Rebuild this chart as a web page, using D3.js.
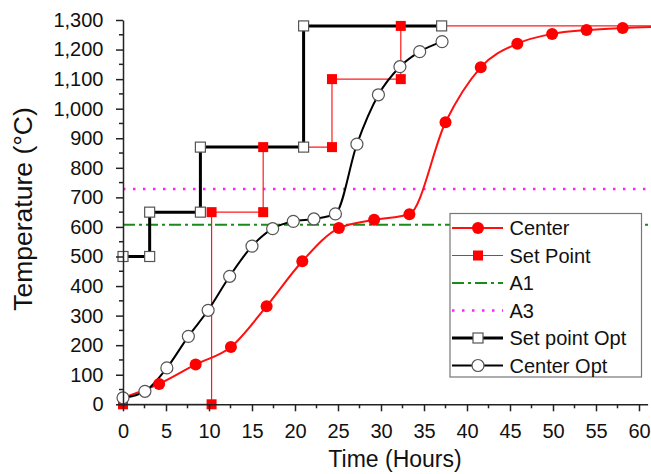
<!DOCTYPE html>
<html>
<head>
<meta charset="utf-8">
<script src="https://cdnjs.cloudflare.com/ajax/libs/d3/7.8.5/d3.min.js"></script>
<style>
  body { margin: 0; background: #fff; }
  svg { display: block; font-family: "Liberation Sans", Arial, sans-serif; }
</style>
</head>
<body>
<svg width="651" height="474"></svg>
<script>
// values (hours, degC)
var centerT    = [0, 4.2, 8.45, 12.55, 16.7, 20.85, 25.1, 29.2, 33.3, 37.5, 41.6, 45.85, 49.9, 53.9, 58.1];
var centerV    = [22, 69, 135, 194, 332, 484, 596, 624, 643, 954, 1140, 1220, 1253, 1266, 1273];
var setT       = [0, 10.3, 10.3, 16.3, 16.3, 24.3, 24.3, 32.3, 32.3];
var setV       = [0, 0, 650, 650, 870, 870, 1100, 1100, 1280];
var optSetT    = [0, 3.1, 3.1, 9, 9, 21, 21, 37.05];
var optSetV    = [500, 500, 650, 650, 870, 870, 1280, 1280];
var optCenterT = [0, 2.55, 5.1, 7.6, 9.9, 12.4, 15.0, 17.4, 19.8, 22.2, 24.7, 27.2, 29.7, 32.2, 34.5, 37.1];
var optCenterV = [22, 44, 123, 230, 318, 433, 535, 594, 619, 627, 644, 880, 1047, 1142, 1193, 1227];
var A1 = 607, A3 = 728;
var xTicks = d3.range(0, 61, 5);
var yTicks = d3.range(0, 1301, 100);
var legendNames = ["Center", "Set Point", "A1", "A3", "Set point Opt", "Center Opt"];

var svg = d3.select("svg")
  , x = d3.scaleLinear().domain([0, 61]).range([123, 647.6])
  , y = d3.scaleLinear().domain([0, 1300]).range([404.3, 20]);

function pts(ts, vs){ return ts.map(function(t, i){ return [t, vs[i]]; }); }

var centerPts = pts(centerT, centerV)
  , setPts = pts(setT, setV)
  , optSetPts = pts(optSetT, optSetV)
  , optCenterPts = pts(optCenterT, optCenterV);

svg.append("clipPath").attr("id", "clip")
  .append("rect").attr("x", 123).attr("y", 0).attr("width", 528).attr("height", 405);

var plot = svg.append("g").attr("clip-path", "url(#clip)");

var straight = d3.line().x(function(d){ return x(d[0]); }).y(function(d){ return y(d[1]); });
var smooth = d3.line().curve(d3.curveMonotoneX).x(function(d){ return x(d[0]); }).y(function(d){ return y(d[1]); });

// reference lines
plot.append("line").attr("x1", x(0)).attr("x2", 651).attr("y1", y(A1)).attr("y2", y(A1))
  .attr("stroke", "#1a8a1a").attr("stroke-width", 2).attr("stroke-dasharray", "12,4,3,4");
plot.append("line").attr("x1", x(0)).attr("x2", 651).attr("y1", y(A3)).attr("y2", y(A3))
  .attr("stroke", "#ff22ff").attr("stroke-width", 2.5).attr("stroke-dasharray", "2.5,7.5");

// set point line keeps going to the edge
plot.append("path").datum(setPts.concat([[62, 1280]]))
  .attr("d", straight).attr("fill", "none").attr("stroke", "#ff1a1a").attr("stroke-width", 1.2);
plot.append("path").datum(centerPts.concat([[62, 1277]]))
  .attr("d", smooth).attr("fill", "none").attr("stroke", "#ff1010").attr("stroke-width", 2);
plot.append("path").datum(optSetPts)
  .attr("d", straight).attr("fill", "none").attr("stroke", "#000").attr("stroke-width", 3);
plot.append("path").datum(optCenterPts)
  .attr("d", smooth).attr("fill", "none").attr("stroke", "#000").attr("stroke-width", 2);

// markers on top
var mk = svg.append("g");
mk.selectAll(".sp").data(setPts).enter().append("rect")
  .attr("x", function(d){ return x(d[0]) - 5; }).attr("y", function(d){ return y(d[1]) - 5; })
  .attr("width", 10).attr("height", 10).attr("fill", "#ff0000");
mk.selectAll(".ce").data(centerPts).enter().append("circle")
  .attr("cx", function(d){ return x(d[0]); }).attr("cy", function(d){ return y(d[1]); })
  .attr("r", 6).attr("fill", "#ff0000");
mk.selectAll(".os").data(optSetPts).enter().append("rect")
  .attr("x", function(d){ return x(d[0]) - 5; }).attr("y", function(d){ return y(d[1]) - 5; })
  .attr("width", 10).attr("height", 10).attr("fill", "#fff").attr("stroke", "#555").attr("stroke-width", 1.2);
mk.selectAll(".oc").data(optCenterPts).enter().append("circle")
  .attr("cx", function(d){ return x(d[0]); }).attr("cy", function(d){ return y(d[1]); })
  .attr("r", 6).attr("fill", "#fff").attr("stroke", "#555").attr("stroke-width", 1.2);

// axes
var fmt = d3.format(",");
var xAxis = svg.append("g").attr("transform", "translate(0,404.3)")
  .call(d3.axisBottom(x).tickValues(xTicks).tickSize(7).tickPadding(13).tickSizeOuter(0));
var yAxis = svg.append("g").attr("transform", "translate(123,0)")
  .call(d3.axisLeft(y).tickValues(yTicks).tickFormat(fmt).tickSize(7).tickPadding(12.5).tickSizeOuter(0));

xAxis.selectAll(".minor").data(xTicks.slice(0, -1)).enter().append("line")
  .attr("x1", function(d){ return x(d + 2.5); }).attr("x2", function(d){ return x(d + 2.5); })
  .attr("y1", 0).attr("y2", 4).attr("stroke", "#222").attr("stroke-width", 1.5);
yAxis.selectAll(".minor").data(yTicks.slice(0, -1)).enter().append("line")
  .attr("y1", function(d){ return y(d + 50); }).attr("y2", function(d){ return y(d + 50); })
  .attr("x1", 0).attr("x2", -4).attr("stroke", "#222").attr("stroke-width", 1.5);

[xAxis, yAxis].forEach(function(a){
  a.select(".domain").attr("stroke", "#222").attr("stroke-width", 1.5);
  a.selectAll(".tick line").attr("stroke", "#222").attr("stroke-width", 1.5);
  a.selectAll(".tick text").attr("font-size", 20).attr("fill", "#111")
    .attr("font-family", "'Liberation Sans', Arial, sans-serif");
});

svg.append("text").attr("x", 395).attr("y", 467).attr("text-anchor", "middle")
  .attr("font-size", 23).attr("fill", "#111").text("Time (Hours)");
svg.append("text").attr("transform", "translate(32,209) rotate(-90)").attr("text-anchor", "middle")
  .attr("font-size", 26.5).attr("fill", "#111").text("Temperature (°C)");

// legend
var lg = svg.append("g");
lg.append("rect").attr("x", 450).attr("y", 213.5).attr("width", 191.5).attr("height", 163.5)
  .attr("fill", "#fff").attr("stroke", "#777").attr("stroke-width", 1.2);
var rows = lg.selectAll(".row").data(legendNames).enter().append("g")
  .attr("transform", function(d, i){ return "translate(0," + (228 + i * 27.5) + ")"; });
rows.append("text").attr("x", 509.5).attr("y", 7).attr("font-size", 20).attr("fill", "#111")
  .text(function(d){ return d; });
var samples = [
  {stroke: "#ff1010", w: 2, dash: null},
  {stroke: "#ff1a1a", w: 1.2, dash: null},
  {stroke: "#1a8a1a", w: 2, dash: "12,4,3,4"},
  {stroke: "#ff22ff", w: 2.5, dash: "2.5,7.5"},
  {stroke: "#000", w: 3, dash: null},
  {stroke: "#000", w: 2, dash: null}
];
rows.append("line").attr("x1", 452).attr("x2", 503).attr("y1", 0).attr("y2", 0)
  .attr("stroke", function(d, i){ return samples[i].stroke; })
  .attr("stroke-width", function(d, i){ return samples[i].w; })
  .attr("stroke-dasharray", function(d, i){ return samples[i].dash; });
rows.filter(function(d, i){ return i === 0; }).append("circle").attr("cx", 478).attr("r", 6).attr("fill", "#ff0000");
rows.filter(function(d, i){ return i === 1; }).append("rect").attr("x", 473).attr("y", -5)
  .attr("width", 10).attr("height", 10).attr("fill", "#ff0000");
rows.filter(function(d, i){ return i === 4; }).append("rect").attr("x", 473).attr("y", -5)
  .attr("width", 10).attr("height", 10).attr("fill", "#fff").attr("stroke", "#555").attr("stroke-width", 1.2);
rows.filter(function(d, i){ return i === 5; }).append("circle").attr("cx", 478).attr("r", 6)
  .attr("fill", "#fff").attr("stroke", "#555").attr("stroke-width", 1.2);
</script>
</body>
</html>
